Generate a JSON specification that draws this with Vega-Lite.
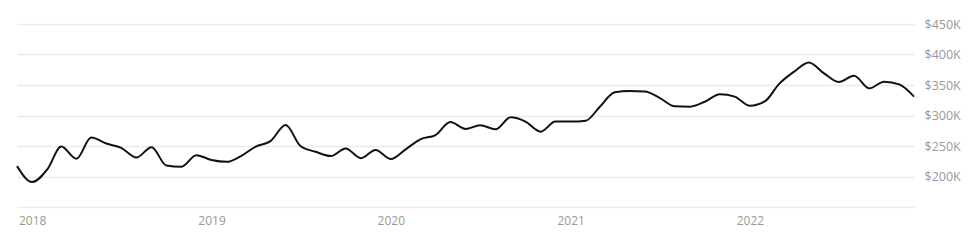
{
  "$schema": "https://vega.github.io/schema/vega-lite/v6.json",
  "width": 897,
  "height": 183,
  "autosize": {"type": "none"},
  "padding": {"left": 17, "top": 24, "right": 61, "bottom": 33},
  "background": "white",
  "config": {"view": {"stroke": null}, "font": "Open Sans"},
  "data": {
    "values": [
      {"date": "2017-12-01", "price": 217000},
      {"date": "2018-01-01", "price": 191000},
      {"date": "2018-02-01", "price": 212000},
      {"date": "2018-03-01", "price": 249000},
      {"date": "2018-04-01", "price": 229000},
      {"date": "2018-05-01", "price": 264000},
      {"date": "2018-06-01", "price": 254000},
      {"date": "2018-07-01", "price": 247000},
      {"date": "2018-08-01", "price": 231000},
      {"date": "2018-09-01", "price": 248000},
      {"date": "2018-10-01", "price": 218000},
      {"date": "2018-11-01", "price": 216000},
      {"date": "2018-12-01", "price": 235000},
      {"date": "2019-01-01", "price": 227000},
      {"date": "2019-02-01", "price": 224000},
      {"date": "2019-03-01", "price": 233000},
      {"date": "2019-04-01", "price": 249000},
      {"date": "2019-05-01", "price": 258000},
      {"date": "2019-06-01", "price": 284500},
      {"date": "2019-07-01", "price": 250000},
      {"date": "2019-08-01", "price": 240500},
      {"date": "2019-09-01", "price": 233500},
      {"date": "2019-10-01", "price": 246000},
      {"date": "2019-11-01", "price": 230000},
      {"date": "2019-12-01", "price": 243500},
      {"date": "2020-01-01", "price": 228500},
      {"date": "2020-02-01", "price": 245000},
      {"date": "2020-03-01", "price": 261000},
      {"date": "2020-04-01", "price": 268000},
      {"date": "2020-05-01", "price": 289500},
      {"date": "2020-06-01", "price": 278000},
      {"date": "2020-07-01", "price": 284000},
      {"date": "2020-08-01", "price": 277500},
      {"date": "2020-09-01", "price": 297000},
      {"date": "2020-10-01", "price": 290000},
      {"date": "2020-11-01", "price": 273500},
      {"date": "2020-12-01", "price": 290000},
      {"date": "2021-01-01", "price": 290000},
      {"date": "2021-02-01", "price": 291500},
      {"date": "2021-03-01", "price": 314000},
      {"date": "2021-04-01", "price": 338000},
      {"date": "2021-05-01", "price": 340000},
      {"date": "2021-06-01", "price": 339500},
      {"date": "2021-07-01", "price": 329000},
      {"date": "2021-08-01", "price": 315000},
      {"date": "2021-09-01", "price": 314500},
      {"date": "2021-10-01", "price": 322500},
      {"date": "2021-11-01", "price": 335000},
      {"date": "2021-12-01", "price": 331000},
      {"date": "2022-01-01", "price": 316000},
      {"date": "2022-02-01", "price": 323500},
      {"date": "2022-03-01", "price": 351500},
      {"date": "2022-04-01", "price": 372000},
      {"date": "2022-05-01", "price": 387000},
      {"date": "2022-06-01", "price": 369000},
      {"date": "2022-07-01", "price": 355000},
      {"date": "2022-08-01", "price": 365000},
      {"date": "2022-09-01", "price": 344500},
      {"date": "2022-10-01", "price": 355500},
      {"date": "2022-11-01", "price": 351000},
      {"date": "2022-12-01", "price": 331000}
    ]
  },
  "mark": {"type": "line", "interpolate": "monotone", "color": "#111111", "strokeWidth": 2},
  "encoding": {
    "x": {
      "field": "date",
      "type": "temporal",
      "title": null,
      "scale": {"nice": false},
      "axis": {
        "format": "%Y",
        "tickCount": {"interval": "year", "step": 1},
        "grid": false,
        "ticks": false,
        "domain": true,
        "domainColor": "#ebebeb",
        "domainWidth": 1.5,
        "labelColor": "#999999",
        "labelFontSize": 12,
        "labelPadding": 8,
        "labelFlush": false
      }
    },
    "y": {
      "field": "price",
      "type": "quantitative",
      "title": null,
      "scale": {"domain": [150000, 450000], "nice": false, "zero": false},
      "axis": {
        "orient": "right",
        "values": [200000, 250000, 300000, 350000, 400000, 450000],
        "labelExpr": "'$' + datum.value / 1000 + 'K'",
        "grid": true,
        "gridColor": "#ebebeb",
        "gridWidth": 1.5,
        "ticks": false,
        "domain": false,
        "labelColor": "#999999",
        "labelFontSize": 12.5,
        "labelPadding": 10
      }
    }
  }
}
